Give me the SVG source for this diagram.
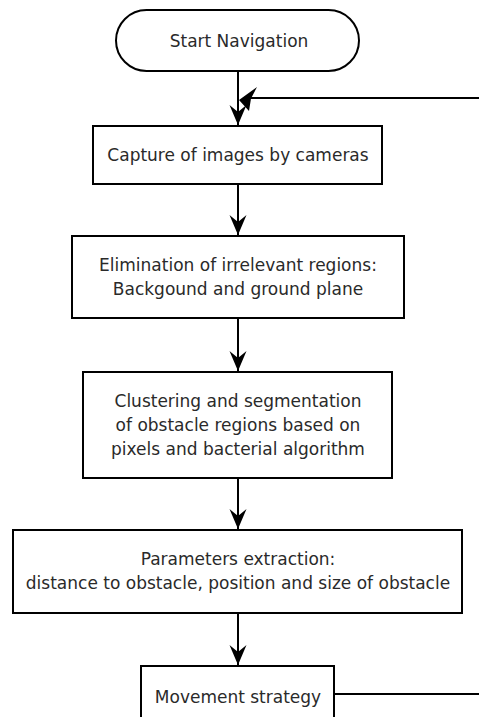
<svg xmlns="http://www.w3.org/2000/svg" width="479" height="717" viewBox="0 0 479 717">
<style>
.box{fill:#fff;stroke:#000;stroke-width:2}
.t{font-family:"DejaVu Sans",sans-serif;font-size:17px;fill:#2a2a2a;text-anchor:middle}
.ln{fill:none;stroke:#000;stroke-width:2}
.ah{fill:#000;stroke:none}
</style>
<defs>
<marker id="arr" viewBox="0 0 20 18" refX="20" refY="9" markerWidth="20" markerHeight="18" markerUnits="userSpaceOnUse" orient="auto">
<path d="M20,9 L0,0.5 L7,9 L0,17.5 Z" fill="#000"/>
</marker>
</defs>
<rect width="479" height="717" fill="#fff"/>
<g id="connectors">
<path class="ln" d="M238,71 V125" marker-end="url(#arr)"/>
<path class="ln" d="M238,184 V235" marker-end="url(#arr)"/>
<path class="ln" d="M238,318 V371" marker-end="url(#arr)"/>
<path class="ln" d="M238,478 V529" marker-end="url(#arr)"/>
<path class="ln" d="M238,613 V665" marker-end="url(#arr)"/>
<path class="ln" d="M334,694 H495 V98 H250"/>
<path class="ah" d="M239,100 L257,87 L251,98.5 L249,111 Z"/>
</g>
<g id="start">
<rect class="box" x="116" y="10" width="243" height="61" rx="30.5" ry="30.5"/>
<text class="t" x="239" y="47">Start Navigation</text>
</g>
<g id="capture">
<rect class="box" x="93" y="126" width="289" height="58"/>
<text class="t" x="238" y="161">Capture of images by cameras</text>
</g>
<g id="elimination">
<rect class="box" x="72" y="236" width="332" height="82"/>
<text class="t" x="238" y="271">Elimination of irrelevant regions:</text>
<text class="t" x="238" y="295">Backgound and ground plane</text>
</g>
<g id="clustering">
<rect class="box" x="83" y="372" width="309" height="106"/>
<text class="t" x="238" y="407">Clustering and segmentation</text>
<text class="t" x="238" y="431">of obstacle regions based on</text>
<text class="t" x="238" y="455">pixels and bacterial algorithm</text>
</g>
<g id="parameters">
<rect class="box" x="13" y="530" width="449" height="83"/>
<text class="t" x="238" y="565">Parameters extraction:</text>
<text class="t" x="238" y="589">distance to obstacle, position and size of obstacle</text>
</g>
<g id="movement">
<rect class="box" x="141" y="666" width="193" height="70"/>
<text class="t" x="238" y="703">Movement strategy</text>
</g>
</svg>
